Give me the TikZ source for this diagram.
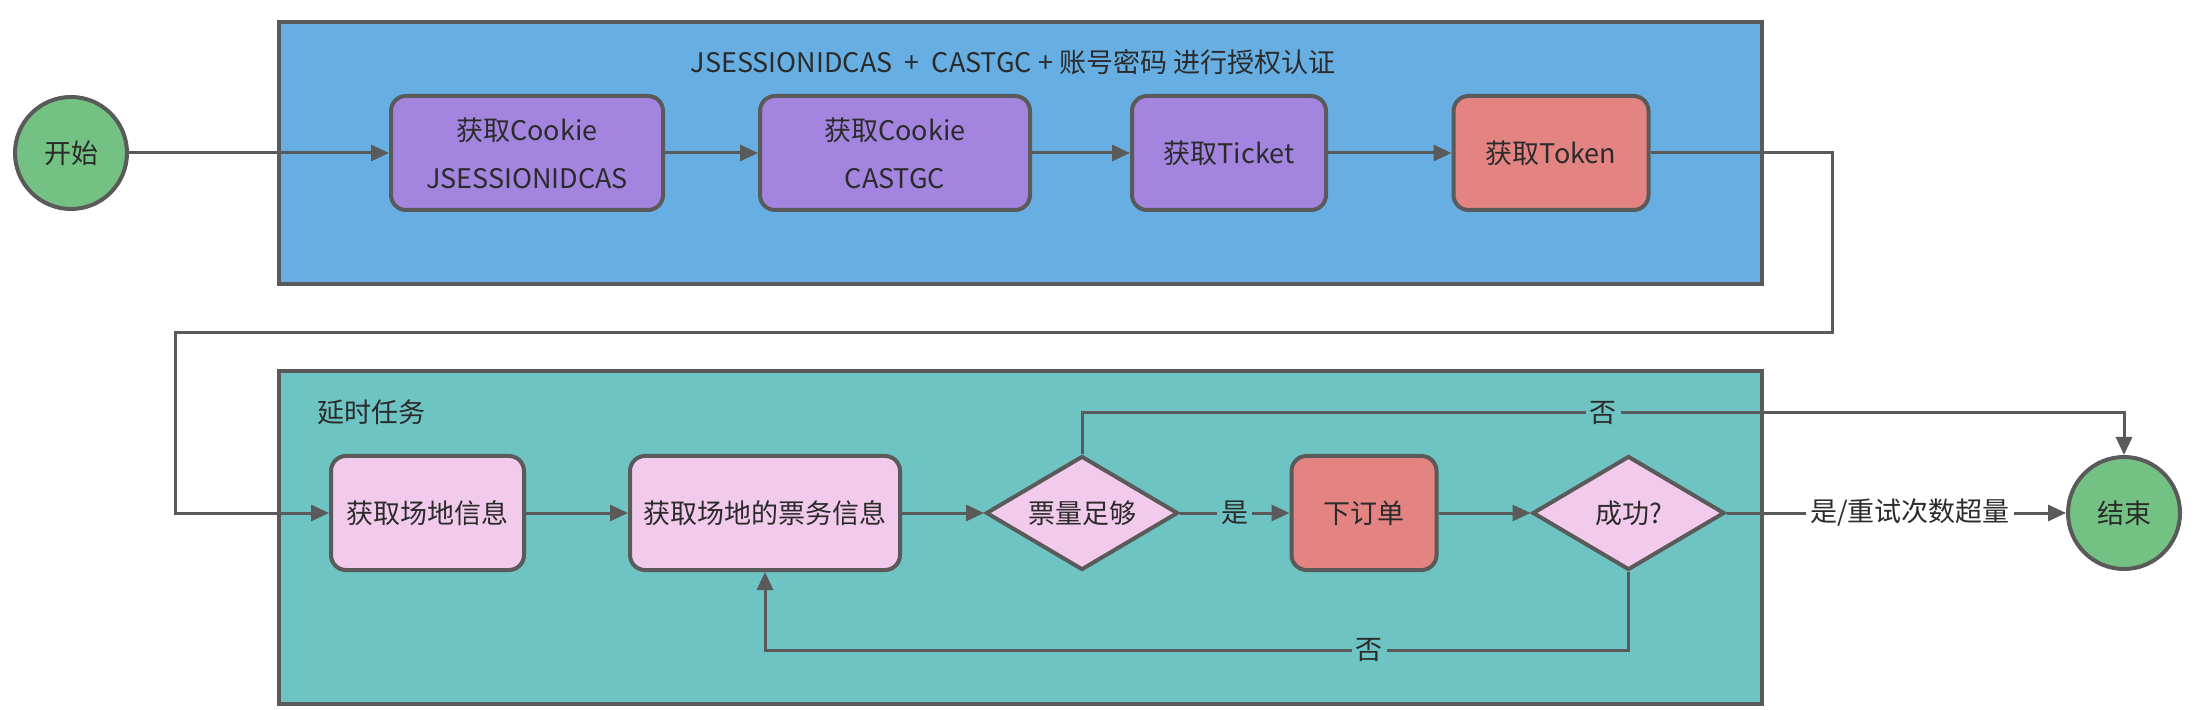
\documentclass[tikz,border=0pt]{standalone}
\usepackage{fontspec}
\setmainfont{Noto Sans CJK SC}
\usepackage{xcolor}
\usepackage{tikz}
\usetikzlibrary{shapes,arrows.meta,positioning,calc}

\definecolor{lineGray}{HTML}{5A5A5A}
\definecolor{textDark}{HTML}{2B2B2B}
\definecolor{authBlue}{HTML}{67AFE3}
\definecolor{taskTeal}{HTML}{6EC3C3}
\definecolor{stepPurple}{HTML}{A385DF}
\definecolor{stepRed}{HTML}{E38483}
\definecolor{stepPink}{HTML}{F2CBEC}
\definecolor{termGreen}{HTML}{73C283}

\begin{document}
\begin{tikzpicture}[x=0.5pt, y=-0.5pt,
    font=\fontsize{13.5}{24}\selectfont,
    frame/.style={draw=lineGray, line width=2pt},
    stepbox/.style={draw=lineGray, line width=2pt, rounded corners=7.5pt, minimum height=57pt, inner sep=0pt, align=center, text=textDark},
    decide/.style={draw=lineGray, line width=2pt, diamond, aspect=1.7, minimum width=96pt, minimum height=57pt, inner sep=0pt, fill=stepPink, text=textDark},
    terminal/.style={draw=lineGray, line width=2pt, circle, minimum size=56pt, inner sep=0pt, fill=termGreen, text=textDark},
    flow/.style={draw=lineGray, line width=1.5pt, -{Triangle[length=9pt, width=8pt]}},
    edgetext/.style={inner sep=2pt, text=textDark}]
    \useasboundingbox (0,0) rectangle (2198,710);

    % group frames
    \draw [frame, fill=authBlue] (278.5,22) rectangle (1761.5,284);
    \draw [frame, fill=taskTeal] (278.5,371) rectangle (1761.5,704);
    \node [text=textDark] (authTitle) at (1013,62) {JSESSIONIDCAS~~+~~CASTGC + 账号密码 进行授权认证};
    \node [text=textDark, anchor=west] (taskTitle) at (310,412) {延时任务};

    % authorisation steps
    \node [terminal] (start) at (71,153) {开始};
    \node [stepbox, fill=stepPurple, minimum width=136pt] (cookieA) at (527,153) {获取Cookie\\JSESSIONIDCAS};
    \node [stepbox, fill=stepPurple, minimum width=135pt] (cookieB) at (895,153) {获取Cookie\\CASTGC};
    \node [stepbox, fill=stepPurple, minimum width=97pt] (ticket) at (1229,153) {获取Ticket};
    \node [stepbox, fill=stepRed, minimum width=97.5pt] (token) at (1551,153) {获取Token};

    % delayed task
    \node [stepbox, fill=stepPink, minimum width=96.5pt] (venue) at (427.5,513) {获取场地信息};
    \node [stepbox, fill=stepPink, minimum width=135pt] (tickets) at (765,513) {获取场地的票务信息};
    \node [decide] (enough) at (1082,513) {票量足够};
    \node [stepbox, fill=stepRed, minimum width=72.5pt] (order) at (1364,513) {下订单};
    \node [decide] (success) at (1628.5,513) {成功?};
    \node [terminal] (finish) at (2124,513) {结束};

    \coordinate (wrapA) at (1832,333);
    \coordinate (wrapB) at (175,513);
    \coordinate (skipA) at (1082,413);
    \coordinate (skipB) at (2124,413);
    \coordinate (retryA) at (1628.5,650);
    \coordinate (retryB) at (765,650);

    \draw [flow] (start) -- (cookieA);
    \draw [flow] (cookieA) -- (cookieB);
    \draw [flow] (cookieB) -- (ticket);
    \draw [flow] (ticket) -- (token);
    \draw [flow] (token.east) -| (wrapA) -| (wrapB) -- (venue.west);
    \draw [flow] (venue) -- (tickets);
    \draw [flow] (tickets) -- (enough);
    \draw [flow] (enough) -- node [edgetext, fill=taskTeal] {是} (order);
    \draw [flow] (order) -- (success);
    \draw [flow] (success) -- node [edgetext, fill=white, pos=0.54] {是/重试次数超量} (finish);
    \draw [flow] (enough.north) -- (skipA) -- node [edgetext, fill=taskTeal] {否} (skipB) -- (finish.north);
    \draw [flow] (success.south) -- (retryA) -- node [edgetext, fill=taskTeal, pos=0.3] {否} (retryB) -- (tickets.south);
\end{tikzpicture}
\end{document}
